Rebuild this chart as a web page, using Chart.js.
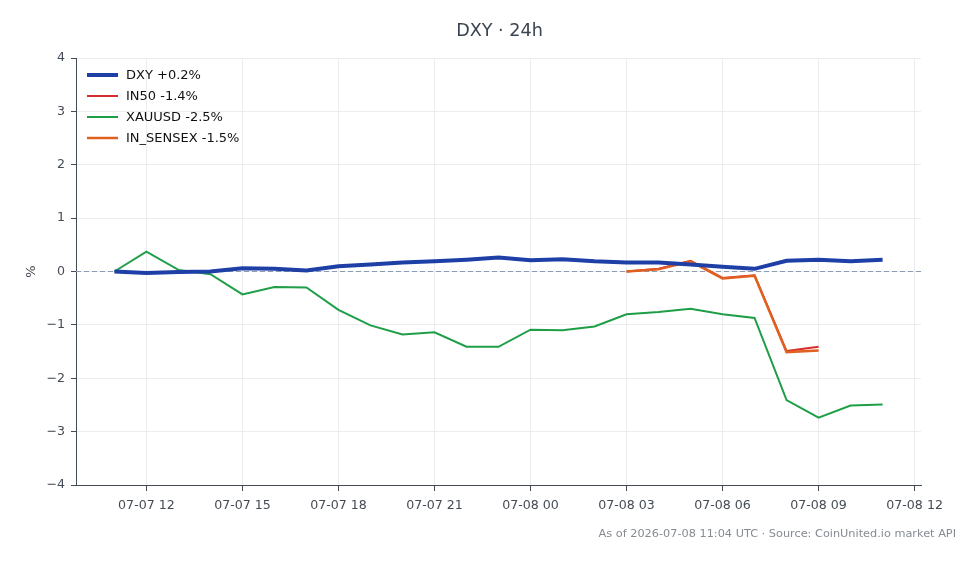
<!DOCTYPE html>
<html lang="en">
<head>
<meta charset="UTF-8">
<title>DXY · 24h</title>
<script src="https://cdn.jsdelivr.net/npm/chart.js"></script>
<style>
  html, body { margin: 0; padding: 0; background: #fff; }
  #wrap { width: 980px; height: 564px; }
</style>
</head>
<body>
<div id="wrap"><canvas id="dxyChart" width="980" height="564"></canvas></div>
<script>
// hours since 07-07 00:00 UTC
const hours = [11, 12, 13, 14, 15, 16, 17, 18, 19, 20, 21, 22, 23, 24, 25, 26, 27, 28, 29, 30, 31, 32, 33, 34, 35];
const dxy = [0.0, -0.03, -0.01, 0.0, 0.06, 0.05, 0.02, 0.10, 0.13, 0.17, 0.19, 0.22, 0.26, 0.21, 0.23, 0.19, 0.17, 0.17, 0.13, 0.09, 0.05, 0.20, 0.22, 0.19, 0.22];
const xauusd = [0.0, 0.37, 0.03, -0.05, -0.43, -0.29, -0.30, -0.72, -1.01, -1.18, -1.14, -1.41, -1.41, -1.09, -1.10, -1.03, -0.80, -0.76, -0.70, -0.80, -0.87, -2.41, -2.74, -2.51, -2.49];
const indiaHours = [27, 28, 29, 30, 31, 32, 33];
const in50 = [0.0, 0.05, 0.20, -0.12, -0.07, -1.49, -1.41];
const sensex = [0.0, 0.04, 0.19, -0.13, -0.08, -1.51, -1.48];
const tickHours = [12, 15, 18, 21, 24, 27, 30, 33, 36];
const tickLabels = ['07-07 12', '07-07 15', '07-07 18', '07-07 21', '07-08 00', '07-08 03', '07-08 06', '07-08 09', '07-08 12'];

const pts = (xs, ys) => xs.map((x, i) => ({ x: x, y: ys[i] }));
const FONT = "'DejaVu Sans', sans-serif";
const AXIS = '#454b54';

// dashed zero line, legend inside the plot, title and footer
const extras = {
  id: 'extras',
  beforeDatasetsDraw(chart) {
    const { ctx, chartArea: a, scales: { y } } = chart;
    const y0 = y.getPixelForValue(0);
    ctx.save();
    ctx.strokeStyle = '#8c9bb0';
    ctx.lineWidth = 1;
    ctx.setLineDash([5, 3]);
    ctx.beginPath();
    ctx.moveTo(a.left, y0);
    ctx.lineTo(a.right, y0);
    ctx.stroke();
    ctx.restore();
  },
  afterDraw(chart) {
    const { ctx, chartArea: a } = chart;
    ctx.save();
    chart.data.datasets.forEach((ds, i) => {
      const ly = 75 + i * 21;
      ctx.strokeStyle = ds.borderColor;
      ctx.lineWidth = ds.borderWidth;
      ctx.beginPath();
      ctx.moveTo(87, ly);
      ctx.lineTo(118, ly);
      ctx.stroke();
      ctx.fillStyle = '#111';
      ctx.font = '13px ' + FONT;
      ctx.textBaseline = 'middle';
      ctx.textAlign = 'left';
      ctx.fillText(ds.label, 126, ly + 1);
    });
    ctx.fillStyle = '#3b4452';
    ctx.font = '17.6px ' + FONT;
    ctx.textAlign = 'center';
    ctx.fillText('DXY · 24h', (a.left + a.right) / 2 + 1, 31);
    ctx.fillStyle = '#868b94';
    ctx.font = '11.3px ' + FONT;
    ctx.textAlign = 'right';
    ctx.fillText('As of 2026-07-08 11:04 UTC · Source: CoinUnited.io market API', 956, 534);
    ctx.restore();
  }
};

new Chart(document.getElementById('dxyChart'), {
  type: 'line',
  data: {
    datasets: [
      { label: 'DXY +0.2%', data: pts(hours, dxy), borderColor: '#1e3fa6', borderWidth: 4, order: 0 },
      { label: 'IN50 -1.4%', data: pts(indiaHours, in50), borderColor: '#d92b2b', borderWidth: 2, order: 3 },
      { label: 'XAUUSD -2.5%', data: pts(hours, xauusd), borderColor: '#1f9e48', borderWidth: 2, order: 2 },
      { label: 'IN_SENSEX -1.5%', data: pts(indiaHours, sensex), borderColor: '#e0601f', borderWidth: 2.5, order: 1 }
    ]
  },
  options: {
    responsive: false,
    animation: false,
    elements: { point: { radius: 0 }, line: { tension: 0 } },
    layout: { padding: { left: 0, right: 59, top: 58, bottom: 0 } },
    plugins: { legend: { display: false }, title: { display: false }, tooltip: { enabled: false } },
    scales: {
      x: {
        type: 'linear',
        min: 9.8,
        max: 36.2,
        afterBuildTicks: s => { s.ticks = tickHours.map(v => ({ value: v })); },
        afterFit: s => { s.height = 79; },
        ticks: {
          callback: v => tickLabels[tickHours.indexOf(v)],
          color: AXIS,
          font: { family: FONT, size: 12.6 },
          padding: 7,
          maxRotation: 0,
          autoSkip: false
        },
        grid: { color: '#eaecef', tickColor: AXIS, tickLength: 6 },
        border: { color: AXIS, width: 1 }
      },
      y: {
        min: -4,
        max: 4,
        afterFit: s => { s.width = 76; },
        ticks: {
          stepSize: 1,
          callback: v => String(v).replace('-', '\u2212'),
          color: AXIS,
          font: { family: FONT, size: 12.6 },
          padding: 6
        },
        title: { display: true, text: '%', color: AXIS, font: { family: FONT, size: 13 }, padding: { top: 24, bottom: 0 } },
        grid: { color: '#eaecef', tickColor: AXIS, tickLength: 5 },
        border: { color: AXIS, width: 1 }
      }
    }
  },
  plugins: [extras]
});
</script>
</body>
</html>
